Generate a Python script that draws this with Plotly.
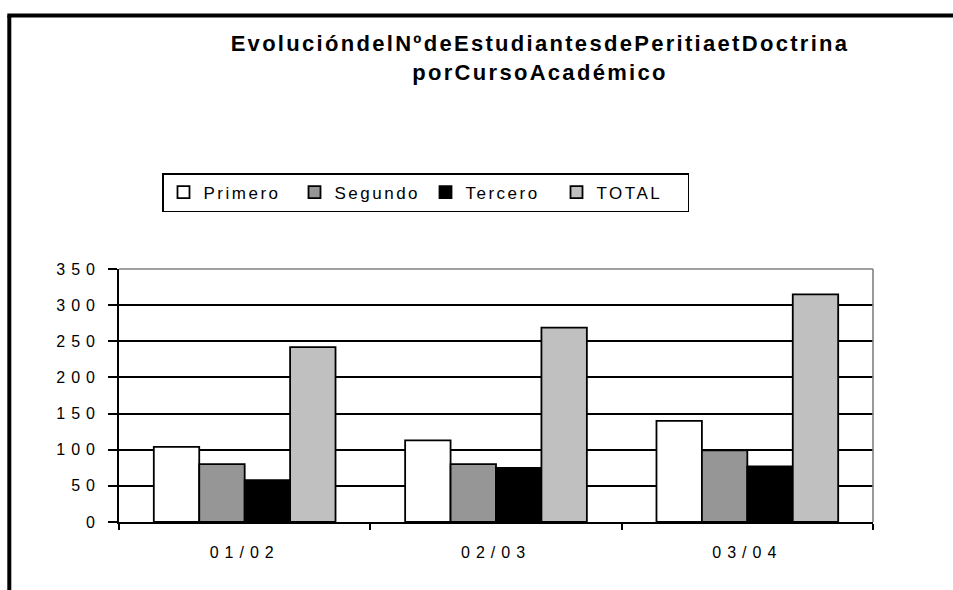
import plotly.graph_objects as go

# Academic years and enrolment counts per course level
cursos = ["01/02", "02/03", "03/04"]
primero = [104, 113, 140]
segundo = [80, 80, 99]
tercero = [58, 75, 77]
total = [242, 269, 315]

series_names = ["Primero", "Segundo", "Tercero", "TOTAL"]
series_values = [primero, segundo, tercero, total]
series_colors = ["#ffffff", "#969696", "#000000", "#c0c0c0"]

title_lines = ["EvolucióndelNºdeEstudiantesdePeritiaetDoctrina", "porCursoAcadémico"]
y_ticks = [0, 50, 100, 150, 200, 250, 300, 350]

W, H = 953, 590
L, R, T, B = 119, 80, 268.5, 67.7
pw, ph = W - L - R, H - T - B


def px_x(x):
    return (x - L) / pw


def px_y(y):
    return (H - B - y) / ph


FONT = "Liberation Sans, Arial, sans-serif"

fig = go.Figure()
for name, vals, col in zip(series_names, series_values, series_colors):
    fig.add_trace(go.Bar(
        x=cursos, y=vals, name=name,
        marker=dict(color=col, line=dict(color="#000000", width=1.8)),
    ))

fig.update_layout(
    width=W, height=H,
    margin=dict(l=L, r=R, t=T, b=B, autoexpand=False),
    paper_bgcolor="#ffffff", plot_bgcolor="#ffffff",
    barmode="group", bargap=0.277, bargroupgap=0,
    font=dict(family=FONT, size=16, color="#000000"),
    title=dict(
        text="<b>" + "<br>".join(title_lines) + "</b>",
        x=540 / W, xanchor="center", xref="container",
        y=1 - 51 / H, yanchor="top", yref="container",
        font=dict(family=FONT, size=22, color="#000000"),
    ),
    legend=dict(
        orientation="h", xref="container", yref="container",
        x=162 / W, xanchor="left", y=1 - 173 / H, yanchor="top",
        bordercolor="#000000", borderwidth=1.5, bgcolor="#ffffff",
        font=dict(family=FONT, size=17, color="#000000"),
        entrywidthmode="pixels", entrywidth=86,
        traceorder="normal", itemclick=False,
    ),
    xaxis=dict(
        showline=True, linecolor="#000000", linewidth=1.6,
        ticks="outside", tickson="boundaries", ticklen=6, tickwidth=1.6,
        tickcolor="#000000", showgrid=False, zeroline=False,
        ticklabelstandoff=15,
        tickfont=dict(family=FONT, size=16),
    ),
    yaxis=dict(
        range=[0, 350], tickvals=y_ticks,
        showline=True, linecolor="#000000", linewidth=1.6,
        ticks="outside", ticklen=9, tickwidth=1.6, tickcolor="#000000",
        showgrid=True, gridcolor="#000000", gridwidth=1.6, zeroline=False,
        ticklabelstandoff=4,
        tickfont=dict(family=FONT, size=16),
    ),
    shapes=[
        # grey top and right edges of the plot area
        dict(type="line", xref="paper", yref="paper", x0=0, x1=1, y0=1, y1=1,
             line=dict(color="#808080", width=1.6)),
        dict(type="line", xref="paper", yref="paper", x0=1, x1=1, y0=0, y1=1,
             line=dict(color="#808080", width=1.6)),
        # heavy outer frame (left and top)
        dict(type="line", xref="paper", yref="paper",
             x0=px_x(9.3), x1=px_x(9.3), y0=px_y(14.3), y1=px_y(610),
             line=dict(color="#000000", width=4)),
        dict(type="line", xref="paper", yref="paper",
             x0=px_x(7.3), x1=px_x(970), y0=px_y(14.3), y1=px_y(14.3),
             line=dict(color="#000000", width=4)),
    ],
)

# spaced-out lettering for the axis, legend and title text
letter_css = """
var st = document.createElement('style');
st.textContent = '.xtick text, .ytick text {letter-spacing: 6px;}' +
  ' .legendtext {letter-spacing: 2.5px;} .gtitle {letter-spacing: 2.3px;}';
document.head.appendChild(st);
"""

fig.write_html("out.html", post_script=letter_css)
